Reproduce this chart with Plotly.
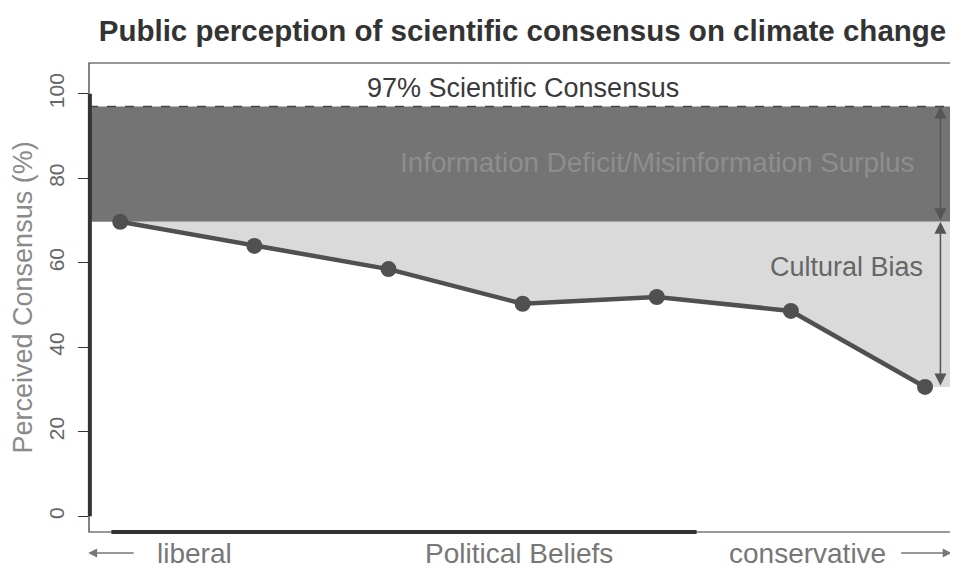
import plotly.graph_objects as go

# Perceived consensus by political ideology (1 = very liberal ... 7 = very conservative)
ideology = [1, 2, 3, 4, 5, 6, 7]
perceived = [69.7, 64.0, 58.5, 50.3, 51.9, 48.6, 30.6]
scientific_consensus = 97

FONT = "Liberation Sans, Arial, sans-serif"
X_RANGE = [0.767, 7.231]
Y_RANGE = [-3.74, 107.3]

DARK_BAND = "#747474"
LIGHT_BAND = "#dadada"
LINE_COL = "#505050"

# the page body has an 8px margin, so the figure is drawn 8px in from the top-left
W, H = 950, 563
PLOT_H = H - 55 - 39

top = perceived[0]
last = perceived[-1]

fig = go.Figure()

# light "cultural bias" area between the curve and the most liberal value
fig.add_trace(go.Scatter(
    x=ideology + [X_RANGE[1], X_RANGE[1]],
    y=perceived + [last, top],
    fill="toself", fillcolor=LIGHT_BAND,
    mode="none", hoverinfo="skip", showlegend=False,
))

fig.add_trace(go.Scatter(
    x=ideology, y=perceived,
    mode="lines+markers",
    line=dict(color=LINE_COL, width=4.5),
    marker=dict(color=LINE_COL, size=16),
    showlegend=False,
))

# information deficit band
fig.add_shape(type="rect", xref="paper", yref="y", x0=0, x1=1,
              y0=top, y1=scientific_consensus,
              fillcolor=DARK_BAND, line_width=0, layer="below")
fig.add_shape(type="line", xref="paper", yref="y", x0=0, x1=1,
              y0=scientific_consensus, y1=scientific_consensus,
              line=dict(color="#444444", width=1.5, dash="dash"))

# plot box and axis lines
fig.add_shape(type="rect", xref="paper", yref="paper", x0=0, x1=1, y0=0, y1=1,
              line=dict(color="#333333", width=1.2))
fig.add_shape(type="line", xref="paper", yref="y", x0=0.001, x1=0.001, y0=0, y1=100,
              line=dict(color="#333333", width=4))
fig.add_shape(type="line", xref="x", yref="paper", x0=0.934, x1=5.297, y0=0, y1=0,
              line=dict(color="#333333", width=4))

# double-headed arrows at the conservative end
arrow_x = ideology[-1] + 0.115
for y_head, y_tail in [(scientific_consensus, top), (top, last)]:
    fig.add_annotation(x=arrow_x, y=y_head, ax=arrow_x, ay=y_tail,
                       xref="x", yref="y", axref="x", ayref="y",
                       text="", showarrow=True, arrowhead=2, startarrowhead=2,
                       arrowside="end+start", arrowsize=1.6, startarrowsize=1.6,
                       arrowwidth=1.5, arrowcolor="#555555")

txt = dict(family=FONT, size=27)
fig.add_annotation(x=4, y=101.5, xref="x", yref="y", text="97% Scientific Consensus",
                   showarrow=False, font=dict(color="#3a3a3a", **txt))
fig.add_annotation(x=5, y=83.7, xref="x", yref="y",
                   text="Information Deficit/Misinformation Surplus",
                   showarrow=False, font=dict(color="#8e8e8e", family=FONT, size=27.8))
fig.add_annotation(x=7, y=58.9, xref="x", yref="y", text="Cultural Bias",
                   xanchor="right", showarrow=False, font=dict(color="#666666", **txt))

# y axis title
fig.add_annotation(x=0, y=0.5, xref="paper", yref="paper", xshift=-67,
                   xanchor="center", yanchor="middle",
                   text="Perceived Consensus (%)", textangle=-90,
                   showarrow=False, font=dict(color="#8a8a8a", **txt))

# x axis labels under the plot
bottom = dict(xref="paper", yref="paper", y=0, yanchor="middle", yshift=-21,
              showarrow=False, font=dict(color="#777777", family=FONT, size=28))
fig.add_annotation(x=0.0761, xanchor="left", text="liberal", **bottom)
fig.add_annotation(x=0.496, xanchor="center", text="Political Beliefs", **bottom)
fig.add_annotation(x=0.9216, xanchor="right", text="conservative", **bottom)
arrow_y = -21 / PLOT_H
fig.add_annotation(x=-0.001, y=arrow_y, xref="paper", yref="paper", ax=47, ay=0,
                   text="", showarrow=True, arrowhead=2, arrowsize=1.2,
                   arrowwidth=1.5, arrowcolor="#777777")
fig.add_annotation(x=0.995, y=arrow_y, xref="paper", yref="paper", ax=-52, ay=0,
                   text="", showarrow=True, arrowhead=2, arrowsize=1.2,
                   arrowwidth=1.5, arrowcolor="#777777")

fig.update_layout(
    width=W, height=H,
    margin=dict(l=81, r=2, t=55, b=39),
    paper_bgcolor="white", plot_bgcolor="white",
    title=dict(text="<b>Public perception of scientific consensus on climate change</b>",
               xref="paper", x=0.5, xanchor="center",
               yref="container", y=1 - 23 / H, yanchor="middle",
               font=dict(family=FONT, size=29.5, color="#333333")),
    xaxis=dict(range=X_RANGE, showgrid=False, zeroline=False, showticklabels=False,
               ticks=""),
    yaxis=dict(range=Y_RANGE, showgrid=False, zeroline=False,
               tickvals=[0, 20, 40, 60, 80, 100], ticks="outside", ticklen=10,
               tickwidth=1.2, tickcolor="#333333", tickangle=-90,
               ticklabelstandoff=6,
               tickfont=dict(family=FONT, size=21, color="#666666")),
)

fig.write_html("out.html")
